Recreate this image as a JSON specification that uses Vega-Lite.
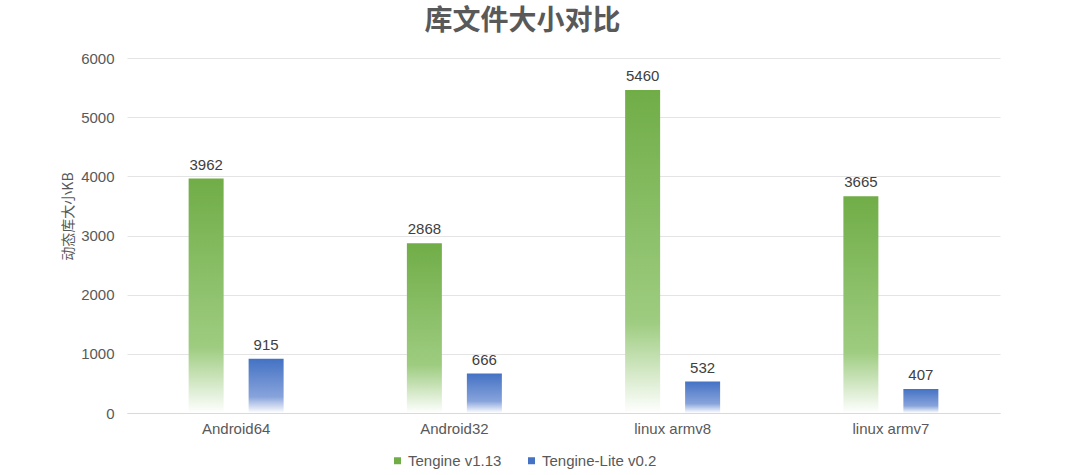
{
  "$schema": "https://vega.github.io/schema/vega-lite/v6.json",
  "width": 873,
  "height": 355,
  "autosize": "none",
  "padding": {"left": 127, "top": 58, "right": 80, "bottom": 62},
  "background": "#ffffff",
  "title": {
    "text": "库文件大小对比",
    "font": "Noto Sans CJK SC",
    "fontSize": 28,
    "fontWeight": "bold",
    "color": "#595959",
    "anchor": "middle",
    "dx": -41,
    "offset": 15
  },
  "data": {
    "values": [
      {"platform": "Android64", "series": "Tengine v1.13", "value": 3962},
      {"platform": "Android64", "series": "Tengine-Lite v0.2", "value": 915},
      {"platform": "Android32", "series": "Tengine v1.13", "value": 2868},
      {"platform": "Android32", "series": "Tengine-Lite v0.2", "value": 666},
      {"platform": "linux armv8", "series": "Tengine v1.13", "value": 5460},
      {"platform": "linux armv8", "series": "Tengine-Lite v0.2", "value": 532},
      {"platform": "linux armv7", "series": "Tengine v1.13", "value": 3665},
      {"platform": "linux armv7", "series": "Tengine-Lite v0.2", "value": 407}
    ]
  },
  "encoding": {
    "x": {
      "field": "platform",
      "type": "nominal",
      "sort": ["Android64", "Android32", "linux armv8", "linux armv7"],
      "scale": {"paddingInner": 0, "paddingOuter": 0},
      "axis": {
        "title": null,
        "labelAngle": 0,
        "labelFont": "Liberation Sans",
        "labelFontSize": 15,
        "labelColor": "#595959",
        "labelPadding": 8,
        "ticks": false,
        "domainColor": "#d9d9d9",
        "grid": false
      }
    },
    "xOffset": {
      "field": "series",
      "type": "nominal",
      "sort": ["Tengine v1.13", "Tengine-Lite v0.2"],
      "scale": {"paddingInner": 0, "paddingOuter": 0.819}
    },
    "y": {
      "field": "value",
      "type": "quantitative",
      "scale": {"domain": [0, 6000], "nice": false},
      "axis": {
        "title": "动态库大小KB",
        "titleFont": "Noto Sans CJK SC",
        "titleFontSize": 14,
        "titleFontWeight": "normal",
        "titleColor": "#595959",
        "titleX": -59,
        "titleY": 158,
        "titleAngle": -90,
        "titleBaseline": "middle",
        "titleAlign": "center",
        "values": [0, 1000, 2000, 3000, 4000, 5000, 6000],
        "format": "d",
        "labelFont": "Liberation Sans",
        "labelFontSize": 15,
        "labelColor": "#595959",
        "labelPadding": 13,
        "ticks": false,
        "domain": false,
        "gridColor": "#e4e4e4",
        "gridWidth": 1
      }
    }
  },
  "layer": [
    {
      "mark": {"type": "bar", "size": 35},
      "encoding": {
        "fill": {
          "condition": {
            "test": "datum.series === 'Tengine v1.13'",
            "value": {
              "gradient": "linear",
              "x1": 0, "y1": 0, "x2": 0, "y2": 1,
              "stops": [
                {"offset": 0, "color": "#70AD47"},
                {"offset": 0.72, "color": "#9ecc80"},
                {"offset": 1, "color": "#ffffff"}
              ]
            }
          },
          "value": {
            "gradient": "linear",
            "x1": 0, "y1": 0, "x2": 0, "y2": 1,
            "stops": [
              {"offset": 0, "color": "#4472C4"},
              {"offset": 0.7, "color": "#87a3db"},
              {"offset": 1, "color": "#ffffff"}
            ]
          }
        }
      }
    },
    {
      "mark": {"type": "text", "dy": -9, "baseline": "alphabetic", "font": "Liberation Sans", "fontSize": 15, "color": "#404040"},
      "encoding": {"text": {"field": "value", "type": "quantitative", "format": "d"}}
    },
    {
      "mark": {"type": "point", "filled": true, "shape": "square", "size": 0},
      "encoding": {
        "color": {
          "field": "series",
          "type": "nominal",
          "sort": ["Tengine v1.13", "Tengine-Lite v0.2"],
          "scale": {"range": ["#70AD47", "#4472C4"]},
          "legend": {
            "title": null,
            "orient": "none",
            "legendX": 263,
            "legendY": 395,
            "padding": 0,
            "direction": "horizontal",
            "symbolType": "square",
            "symbolSize": 49,
            "symbolOpacity": 1,
            "labelFont": "Liberation Sans",
            "labelFontSize": 15,
            "labelColor": "#595959",
            "columnPadding": 22,
            "symbolOffset": 0,
            "labelOffset": 3
          }
        }
      }
    }
  ],
  "config": {
    "view": {"stroke": null}
  }
}
